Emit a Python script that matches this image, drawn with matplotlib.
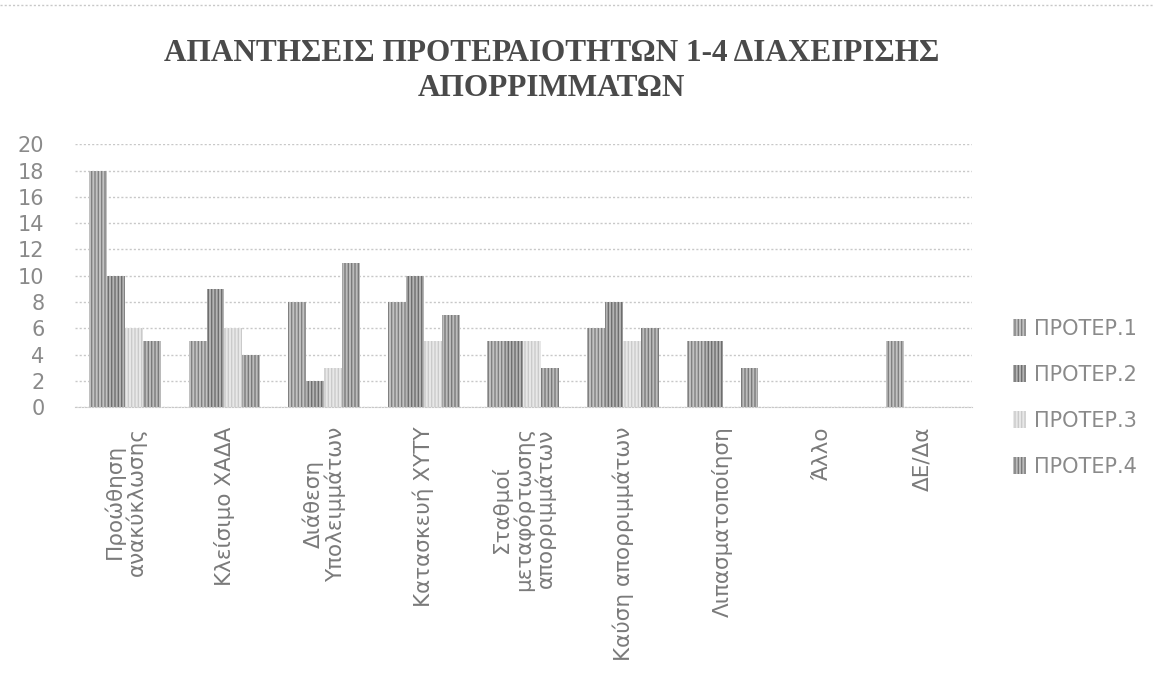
import matplotlib
matplotlib.use("Agg")
import matplotlib.pyplot as plt
import numpy as np

categories = ["Προώθηση\nανακύκλωσης", "Κλείσιμο ΧΑΔΑ", "Διάθεση\nΥπολειμμάτων",
              "Κατασκευή ΧΥΤΥ", "Σταθμοί\nμεταφόρτωσης\nαπορριμμάτων",
              "Καύση απορριμμάτων", "Λιπασματοποίηση", "Άλλο", "ΔΕ/Δα"]
series_names = ["ΠΡΟΤΕΡ.1", "ΠΡΟΤΕΡ.2", "ΠΡΟΤΕΡ.3", "ΠΡΟΤΕΡ.4"]
proter1 = [18, 5, 8, 8, 5, 6, 5, 0, 5]
proter2 = [10, 9, 2, 10, 5, 8, 5, 0, 0]
proter3 = [6, 6, 3, 5, 5, 5, 0, 0, 0]
proter4 = [5, 4, 11, 7, 3, 6, 3, 0, 0]
y_ticks = [0, 2, 4, 6, 8, 10, 12, 14, 16, 18, 20]
title = "ΑΠΑΝΤΗΣΕΙΣ ΠΡΟΤΕΡΑΙΟΤΗΤΩΝ 1-4 ΔΙΑΧΕΙΡΙΣΗΣ\nΑΠΟΡΡΙΜΜΑΤΩΝ"

series = [proter1, proter2, proter3, proter4]
faces = ["#c2c2c2", "#b4b4b4", "#e8e8e8", "#bcbcbc"]
hatch_cols = ["#808080", "#6e6e6e", "#cacaca", "#7a7a7a"]

plt.rcParams['hatch.linewidth'] = 1.0
fig = plt.figure(figsize=(11.54, 6.74), dpi=100)
ax = fig.add_axes([0.065, 0.396, 0.777, 0.390])

x = np.arange(len(categories))
w = 0.18
for i, (vals, fc, hc, name) in enumerate(zip(series, faces, hatch_cols, series_names)):
    ax.bar(x - 1.5 * w + i * w, vals, width=w, color=fc, edgecolor=hc,
           hatch="|||||", linewidth=0, label=name)

ax.set_xlim(-0.5, len(categories) - 0.5)
ax.set_ylim(0, 20)
ax.set_yticks(y_ticks)
ax.set_xticks(x)
ax.set_xticklabels(categories, rotation=90, fontsize=15.5, color="#7a7a7a",
                   linespacing=1.05)
ax.tick_params(axis="y", labelsize=15, labelcolor="#8a8a8a", length=0, pad=22)
ax.tick_params(axis="x", length=0, pad=14)
ax.yaxis.grid(True, color="#c8c8c8", linestyle=(0, (1.5, 1.5)), linewidth=1)
ax.set_axisbelow(True)
for s in ["top", "right", "left"]:
    ax.spines[s].set_visible(False)
ax.spines["bottom"].set_color("#c8c8c8")
ax.spines["bottom"].set_linestyle((0, (1.5, 1.5)))

fig.text(0.478, 0.895, title, ha="center", va="center", fontsize=22.5,
         fontweight="bold", family="Liberation Serif", color="#4a4a4a",
         linespacing=1.25)

leg = fig.legend(loc="center left", bbox_to_anchor=(0.862, 0.41), frameon=False,
                 fontsize=15, labelcolor="#8a8a8a", handlelength=0.6,
                 handleheight=0.9, handletextpad=0.4, labelspacing=1.25)

fig.add_artist(plt.Line2D([0.0, 1.0], [0.993, 0.993], transform=fig.transFigure,
                          color="#c8c8c8", linestyle=(0, (1.5, 1.5)), linewidth=1))

fig.savefig("out.png", dpi=100, facecolor="white")
